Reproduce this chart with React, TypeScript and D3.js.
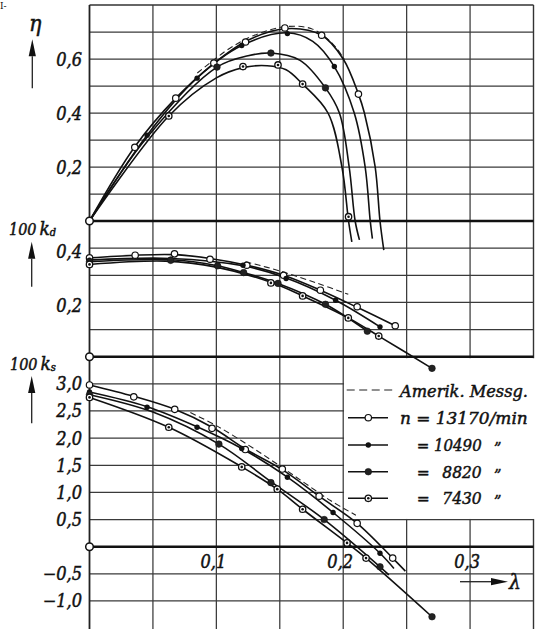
import React from "react";
import * as d3 from "d3";

// ---------- axis ticks ----------
const LAMBDA_TICKS = [0.1, 0.2, 0.3];
const LAMBDA_GRID = [0.05, 0.1, 0.15, 0.2, 0.25, 0.3];
const ETA_TICKS = [0.2, 0.4, 0.6];
const ETA_GRID = [0.1, 0.2, 0.3, 0.4, 0.5, 0.6, 0.7];
const KD_TICKS = [0.2, 0.4];
const KD_GRID = [0.1, 0.2, 0.3, 0.4];
const KS_TICKS = [3.0, 2.5, 2.0, 1.5, 1.0, 0.5, -0.5, -1.0];
const KS_GRID = [3.0, 2.5, 2.0, 1.5, 1.0, 0.5, -0.5, -1.0];

// ---------- series (λ, value) ----------
// η  — efficiency
const eta13170Curve = [[0,0],[0.0357,0.275],[0.068,0.455],[0.098,0.583],[0.123,0.665],[0.154,0.712],[0.183,0.688],[0.2,0.6],[0.212,0.47],[0.2167,0.4],[0.2252,0.2],[0.229,0],[0.232,-0.108]];
const eta13170Pts = [[0.0357,0.273],[0.068,0.455],[0.098,0.585],[0.123,0.663],[0.154,0.715],[0.183,0.688],[0.212,0.47]];
const eta10490Curve = [[0,0],[0.0454,0.318],[0.0848,0.53],[0.12,0.65],[0.156,0.697],[0.176,0.665],[0.193,0.572],[0.2087,0.4],[0.2173,0.2],[0.2213,0],[0.223,-0.065]];
const eta10490Pts = [[0.0454,0.318],[0.0848,0.529],[0.12,0.65],[0.156,0.694],[0.193,0.572]];
const eta8820Curve = [[0,0],[0.0454,0.31],[0.1005,0.57],[0.125,0.612],[0.143,0.622],[0.166,0.595],[0.186,0.493],[0.197,0.4],[0.2047,0.2],[0.2094,0],[0.2128,-0.07]];
const eta8820Pts = [[0.1005,0.57],[0.143,0.622],[0.186,0.493]];
const eta7430Curve = [[0,0],[0.0625,0.389],[0.1,0.53],[0.121,0.568],[0.14,0.575],[0.155,0.56],[0.168,0.507],[0.188,0.4],[0.199,0.2],[0.2042,0],[0.2068,-0.077]];
const eta7430Pts = [[0.0625,0.389],[0.121,0.572],[0.1486,0.578],[0.168,0.507],[0.2042,0.016]];
const etaAmerik = [[0.085,0.548],[0.11,0.638],[0.13,0.688],[0.155,0.72],[0.175,0.712],[0.191,0.66],[0.201,0.598]];

// 100 k_d
const kd13170Curve = [[0,0.364],[0.036,0.374],[0.067,0.376],[0.095,0.362],[0.124,0.337],[0.153,0.3],[0.182,0.245],[0.211,0.182],[0.241,0.114]];
const kd13170Pts = [[0,0.364],[0.036,0.374],[0.067,0.379],[0.095,0.359],[0.124,0.337],[0.153,0.3],[0.182,0.245],[0.211,0.184],[0.241,0.114]];
const kd10490Curve = [[0,0.356],[0.064,0.362],[0.121,0.335],[0.155,0.29],[0.194,0.208],[0.229,0.11]];
const kd10490Pts = [[0,0.356],[0.064,0.359],[0.121,0.337],[0.155,0.288],[0.194,0.208],[0.229,0.11]];
const kd8820Curve = [[0,0.35],[0.064,0.357],[0.101,0.335],[0.1215,0.31],[0.1486,0.27],[0.186,0.193],[0.219,0.094]];
const kd8820Pts = [[0,0.35],[0.064,0.355],[0.101,0.335],[0.1215,0.31],[0.1486,0.27],[0.186,0.193],[0.219,0.094]];
const kd7430Curve = [[0,0.34],[0.06,0.352],[0.1,0.33],[0.143,0.274],[0.168,0.224],[0.204,0.143],[0.228,0.076],[0.27,-0.043]];
const kd7430Pts = [[0,0.34],[0.143,0.272],[0.168,0.224],[0.204,0.143],[0.228,0.076]];
const kdEndPts = [[0.27,-0.043]];
const kdAmerik = [[0.123,0.35],[0.15,0.316],[0.18,0.27],[0.204,0.23]];

// 100 k_s
const ks13170Curve = [[0,2.98],[0.0349,2.77],[0.0672,2.53],[0.0966,2.2],[0.1228,1.8],[0.152,1.42],[0.181,0.93],[0.211,0.43],[0.239,-0.21],[0.249,-0.45]];
const ks13170Pts = [[0,2.98],[0.0349,2.76],[0.0672,2.53],[0.0966,2.18],[0.1228,1.79],[0.152,1.43],[0.181,0.93],[0.211,0.43],[0.239,-0.21]];
const ks10490Curve = [[0,2.85],[0.0454,2.58],[0.0848,2.21],[0.12,1.81],[0.156,1.28],[0.192,0.63],[0.229,-0.12],[0.24,-0.4]];
const ks10490Pts = [[0,2.85],[0.0454,2.57],[0.0848,2.2],[0.12,1.81],[0.156,1.28],[0.192,0.63],[0.229,-0.12]];
const ks8820Curve = [[0,2.8],[0.05,2.48],[0.102,1.89],[0.143,1.2],[0.185,0.5],[0.229,-0.37],[0.236,-0.52]];
const ks8820Pts = [[0,2.8],[0.102,1.89],[0.143,1.18],[0.185,0.5],[0.229,-0.37]];
const ks7430Curve = [[0,2.75],[0.0625,2.2],[0.12,1.47],[0.148,1.06],[0.168,0.69],[0.203,0.07],[0.218,-0.21],[0.27,-1.29]];
const ks7430Pts = [[0,2.75],[0.0625,2.2],[0.12,1.47],[0.148,1.06],[0.168,0.69],[0.203,0.07],[0.218,-0.21]];
const ksEndPts = [[0.27,-1.29]];
const ksAmerik = [[0.0795,2.47],[0.1,2.23],[0.13,1.8],[0.16,1.33],[0.19,0.85],[0.21,0.58]];

// legend
const LEGEND_SPEEDS = ["13170/min", "10490", "8820", "7430"];
const LEGEND_MARKERS = ["open", "filled", "big", "dot"];

const W = 536;
const H = 629;
const FONT = "'DejaVu Serif Condensed', 'DejaVu Serif', 'Liberation Serif', serif";

const x = d3.scaleLinear().domain([0, 0.35]).range([89.5, 533.5]);
const yEta = d3.scaleLinear().domain([0, 0.8]).range([221, 5]);
const yKd = d3.scaleLinear().domain([0, 0.5]).range([356.7, 221]);
const yKs = d3.scaleLinear().domain([0, 3.5]).range([546.7, 356.7]);

const fmt = (v: number) => d3.format(".1f")(v).replace(".", ",").replace("-", "\u2212");

function Marker({ cx, cy, type }: { cx: number; cy: number; type: string }) {
  if (type === "open")
    return <circle cx={cx} cy={cy} r={3.2} fill="#fff" stroke="#111" strokeWidth={1.2} />;
  if (type === "filled") return <circle cx={cx} cy={cy} r={2.7} fill="#111" />;
  if (type === "big") return <circle cx={cx} cy={cy} r={3.3} fill="#222" stroke="#111" strokeWidth={0.6} />;
  return (
    <g>
      <circle cx={cx} cy={cy} r={3.2} fill="#fff" stroke="#111" strokeWidth={1.3} />
      <circle cx={cx} cy={cy} r={1.3} fill="#111" />
    </g>
  );
}

function Arrow({ x1, y1, x2, y2 }: { x1: number; y1: number; x2: number; y2: number }) {
  // arrow from (x1,y1) to tip (x2,y2)
  const ang = Math.atan2(y2 - y1, x2 - x1);
  const L = 17, Wd = 3.6;
  const bx = x2 - L * Math.cos(ang), by = y2 - L * Math.sin(ang);
  const px = -Math.sin(ang) * Wd, py = Math.cos(ang) * Wd;
  return (
    <g>
      <line x1={x1} y1={y1} x2={bx} y2={by} stroke="#222" strokeWidth={1.3} />
      <path d={`M${x2},${y2}L${bx + px},${by + py}L${bx - px},${by - py}Z`} fill="#111" />
    </g>
  );
}

export default function App() {
  const mk = (yS: d3.ScaleLinear<number, number>) =>
    d3.line<number[]>().x((d) => x(d[0])).y((d) => yS(d[1])).curve(d3.curveCatmullRom.alpha(0.5));
  const lEta = mk(yEta), lKd = mk(yKd), lKs = mk(yKs);

  const series = [
    { type: "open", curves: [[lEta, eta13170Curve], [lKd, kd13170Curve], [lKs, ks13170Curve]], pts: [[yEta, eta13170Pts], [yKd, kd13170Pts], [yKs, ks13170Pts]] },
    { type: "filled", curves: [[lEta, eta10490Curve], [lKd, kd10490Curve], [lKs, ks10490Curve]], pts: [[yEta, eta10490Pts], [yKd, kd10490Pts], [yKs, ks10490Pts]] },
    { type: "big", curves: [[lEta, eta8820Curve], [lKd, kd8820Curve], [lKs, ks8820Curve]], pts: [[yEta, eta8820Pts], [yKd, kd8820Pts], [yKs, ks8820Pts], [yKd, kdEndPts], [yKs, ksEndPts]] },
    { type: "dot", curves: [[lEta, eta7430Curve], [lKd, kd7430Curve], [lKs, ks7430Curve]], pts: [[yEta, eta7430Pts], [yKd, kd7430Pts], [yKs, ks7430Pts]] },
  ] as any[];

  const left = x(0), right = x(0.35);
  const legX0 = x(0.2) + 0.8;
  const legY0 = yKs(3.5) + 1.5;
  const legY1 = yKs(0.5) - 0.6;

  const textStyle = { fontFamily: FONT, fontStyle: "italic" as const, fill: "#111", stroke: "#111", strokeWidth: 0.45 };
  const rowY = [390, 417.7, 445, 471.7, 498.3];

  return (
    <svg width={W} height={H} style={{ position: "absolute", left: 0, top: 0, background: "#fff" }}>
      <rect x={0} y={0} width={W} height={H} fill="#fff" />
      {/* vertical grid */}
      {LAMBDA_GRID.map((v) => (
        <line key={"vg" + v} x1={x(v)} x2={x(v)} y1={yEta(0.8)} y2={H} stroke="#3a3a3a" strokeWidth={1.25} />
      ))}
      <line x1={right} x2={right} y1={yEta(0.8)} y2={H} stroke="#333" strokeWidth={1.4} />
      {/* horizontal grid */}
      {ETA_GRID.map((v) => (
        <line key={"he" + v} x1={left} x2={right} y1={yEta(v)} y2={yEta(v)} stroke="#3a3a3a" strokeWidth={1.25} />
      ))}
      {KD_GRID.map((v) => (
        <line key={"hd" + v} x1={left} x2={right} y1={yKd(v)} y2={yKd(v)} stroke="#3a3a3a" strokeWidth={1.25} />
      ))}
      {KS_GRID.map((v) => (
        <line key={"hs" + v} x1={left} x2={right} y1={yKs(v)} y2={yKs(v)} stroke="#3a3a3a" strokeWidth={1.25} />
      ))}
      {/* legend box (blank area) */}
      <rect x={legX0} y={legY0} width={W - legX0} height={legY1 - legY0} fill="#fff" />
      {/* frame + zero lines */}
      <line x1={left} x2={right} y1={yEta(0.8)} y2={yEta(0.8)} stroke="#333" strokeWidth={1.5} />
      <line x1={left} x2={left} y1={yEta(0.8)} y2={H} stroke="#222" strokeWidth={1.8} />
      <line x1={left} x2={right} y1={yEta(0)} y2={yEta(0)} stroke="#111" strokeWidth={2.6} />
      <line x1={left} x2={right} y1={yKd(0)} y2={yKd(0)} stroke="#111" strokeWidth={2.6} />
      <line x1={left} x2={right} y1={yKs(0)} y2={yKs(0)} stroke="#111" strokeWidth={2.6} />

      {/* Amerik. Messungen dashed */}
      <path d={lEta(etaAmerik as any) || ""} fill="none" stroke="#222" strokeWidth={1.1} strokeDasharray="6 3.5" />
      <path d={lKd(kdAmerik as any) || ""} fill="none" stroke="#222" strokeWidth={1.1} strokeDasharray="6 3.5" />
      <path d={lKs(ksAmerik as any) || ""} fill="none" stroke="#222" strokeWidth={1.1} strokeDasharray="6 3.5" />

      {/* curves */}
      {series.map((s, i) =>
        s.curves.map((c: any, j: number) => (
          <path key={"c" + i + j} d={c[0](c[1]) || ""} fill="none" stroke="#111" strokeWidth={1.6} />
        ))
      )}
      {/* markers */}
      {series.map((s, i) =>
        s.pts.map((p: any, j: number) =>
          p[1].map((d: number[], k: number) => (
            <Marker key={"m" + i + j + k} cx={x(d[0])} cy={p[0](d[1])} type={s.type} />
          ))
        )
      )}

      {/* origin circles on left axis */}
      {[yEta(0), yKd(0), yKs(0)].map((yy, i) => (
        <circle key={"o" + i} cx={left} cy={yy} r={3.8} fill="#fff" stroke="#111" strokeWidth={1.5} />
      ))}

      {/* tick labels */}
      {ETA_TICKS.map((v) => (
        <text key={"te" + v} x={82} y={yEta(v) + 6.5} textAnchor="end" fontSize={18} {...textStyle}>{fmt(v)}</text>
      ))}
      {KD_TICKS.map((v) => (
        <text key={"td" + v} x={82} y={yKd(v) + 9.5} textAnchor="end" fontSize={18} {...textStyle}>{fmt(v)}</text>
      ))}
      {KS_TICKS.map((v) => (
        <text key={"ts" + v} x={82} y={yKs(v) + 6.5} textAnchor="end" fontSize={18} {...textStyle}>{fmt(v)}</text>
      ))}
      {LAMBDA_TICKS.map((v) => (
        <text key={"tl" + v} x={x(v) - 3} y={568} textAnchor="middle" fontSize={18} {...textStyle}>{fmt(v)}</text>
      ))}

      {/* axis titles */}
      <text x={0} y={9} fontSize={10} {...textStyle} fontStyle="normal" strokeWidth={0}>I-</text>
      <text x={29} y={31} fontSize={23} {...textStyle}>η</text>
      <Arrow x1={32.3} y1={88.3} x2={32.3} y2={39.3} />
      <text x={9} y={234.5} fontSize={16} {...textStyle}>
        100<tspan dx={3} fontSize={19}>k</tspan><tspan fontSize={11} dy={1.5}>d</tspan>
      </text>
      <Arrow x1={31.7} y1={286.7} x2={31.7} y2={241.7} />
      <text x={10} y={369.5} fontSize={16} {...textStyle}>
        100<tspan dx={3} fontSize={19}>k</tspan><tspan fontSize={11} dy={1}>s</tspan>
      </text>
      <Arrow x1={31.7} y1={423.3} x2={31.7} y2={376} />
      <Arrow x1={460} y1={581.7} x2={508} y2={581.7} />
      <text x={509} y={589} fontSize={21} {...textStyle}>λ</text>

      {/* legend */}
      <line x1={346.7} x2={396.7} y1={rowY[0]} y2={rowY[0]} stroke="#222" strokeWidth={1.2} strokeDasharray="8 4.5" />
      <text x={400} y={396.5} fontSize={17} textLength={128} lengthAdjust="spacingAndGlyphs" {...textStyle}>Amerik. Messg.</text>
      {LEGEND_SPEEDS.map((s, i) => {
        const yy = rowY[i + 1];
        return (
          <g key={"lg" + i}>
            <line x1={348} x2={388} y1={yy} y2={yy} stroke="#111" strokeWidth={1.4} />
            <Marker cx={368.3} cy={yy} type={LEGEND_MARKERS[i]} />
            {i === 0 ? (
              <text x={400} y={yy + 6} fontSize={17} textLength={127.7} lengthAdjust="spacingAndGlyphs" {...textStyle}>{"n = " + s}</text>
            ) : (
              <g>
                <text x={416.7} y={yy + 6} fontSize={17} textLength={65} lengthAdjust="spacingAndGlyphs" {...textStyle}>
                  {"= " + (s.length < 5 ? "\u2002" : "") + s}
                </text>
                <text x={494} y={yy + 9} fontSize={16} {...textStyle}>{"\u201D"}</text>
              </g>
            )}
          </g>
        );
      })}
    </svg>
  );
}
